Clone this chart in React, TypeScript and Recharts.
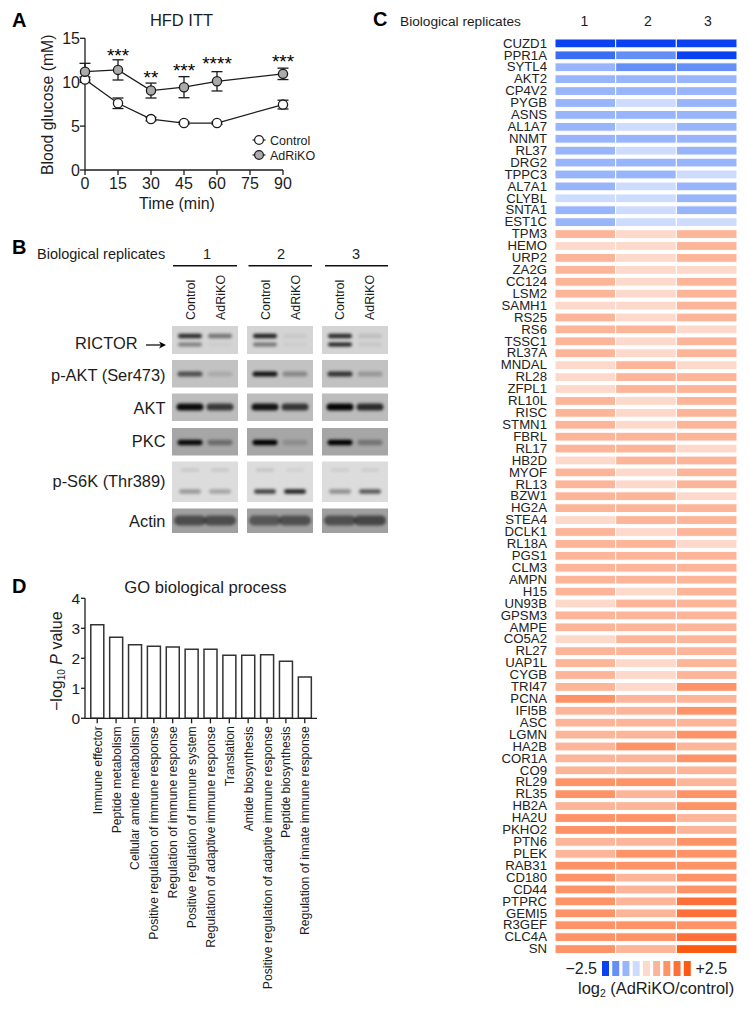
import React from 'react'
import {
  Bar,
  BarChart,
  Cell,
  ErrorBar,
  LabelList,
  Line,
  LineChart,
  ReferenceArea,
  Scatter,
  ScatterChart,
  XAxis,
  YAxis,
} from 'recharts'

// panel A
const times = [0, 15, 30, 45, 60, 90]
const timeTicks = [0, 15, 30, 45, 60, 75, 90]
const controlMean = [10.3, 7.6, 5.8, 5.35, 5.35, 7.45]
const controlErr = [0.3, 0.6, 0.2, 0.15, 0.15, 0.5]
const adrikoMean = [11.2, 11.4, 9.05, 9.43, 10.1, 10.95]
const adrikoErr = [0.95, 1.15, 0.85, 1.2, 1.1, 0.65]
const stars = ['', '***', '**', '***', '****', '***']
const starHeight = [null, 12.35, 9.8, 10.55, 11.4, 11.6]

// panel B
const blotLanes = [0, 1, 2.5, 3.5, 5, 6]
const blotNames = ['RICTOR', 'p-AKT (Ser473)', 'AKT', 'PKC', 'p-S6K (Thr389)', 'Actin']
const rictorUpper = [0.8, 0.45, 0.85, 0.05, 0.8, 0.1]
const rictorLower = [0.4, 0.03, 0.45, 0.03, 0.85, 0.06]
const pAkt = [0.6, 0.12, 0.9, 0.3, 0.75, 0.22]
const akt = [0.95, 0.7, 0.9, 0.72, 0.98, 0.78]
const pkc = [0.95, 0.35, 1, 0.15, 1, 0.3]
const s6kUpper = [0.1, 0.1, 0.12, 0.06, 0.08, 0.08]
const s6kLower = [0.3, 0.25, 0.7, 0.85, 0.35, 0.6]
const actin = [0.52, 0.52, 0.46, 0.5, 0.5, 0.56]

// panel C
const proteins = [
  'CUZD1', 'PPR1A', 'SYTL4', 'AKT2', 'CP4V2', 'PYGB', 'ASNS', 'AL1A7', 'NNMT', 'RL37', 'DRG2',
  'TPPC3', 'AL7A1', 'CLYBL', 'SNTA1', 'EST1C', 'TPM3', 'HEMO', 'URP2', 'ZA2G', 'CC124', 'LSM2',
  'SAMH1', 'RS25', 'RS6', 'TSSC1', 'RL37A', 'MNDAL', 'RL28', 'ZFPL1', 'RL10L', 'RISC', 'STMN1',
  'FBRL', 'RL17', 'HB2D', 'MYOF', 'RL13', 'BZW1', 'HG2A', 'STEA4', 'DCLK1', 'RL18A', 'PGS1',
  'CLM3', 'AMPN', 'H15', 'UN93B', 'GPSM3', 'AMPE', 'CO5A2', 'RL27', 'UAP1L', 'CYGB', 'TRI47',
  'PCNA', 'IFI5B', 'ASC', 'LGMN', 'HA2B', 'COR1A', 'CO9', 'RL29', 'RL35', 'HB2A', 'HA2U',
  'PKHO2', 'PTN6', 'PLEK', 'RAB31', 'CD180', 'CD44', 'PTPRC', 'GEMI5', 'R3GEF', 'CLC4A', 'SN',
]
const replicate1 = [
  -4, -3.5, -2, -2, -2, -2, -2, -2, -2, -2, -2, -2, -2, -1, -2, -2,
  2, 1, 2, 2, 2, 2, 1, 2, 2, 2, 2, 1, 1, 1, 2, 2, 2, 2, 2, 1, 2, 2, 2, 2, 1, 2, 2, 2, 2, 2, 2, 1,
  2, 2, 1, 2, 2, 2, 2, 3, 2, 2, 2, 2, 2, 2, 3, 3, 2, 3, 3, 2, 2, 3, 3, 3, 3, 3, 3, 3, 3,
]
const replicate2 = [
  -4, -3, -3, -2, -2, -1, -2, -1, -2, -1, -2, -2, -1, -1, -1, -1,
  1, 1, 1, 1, 1, 1, 1, 1, 2, 1, 1, 2, 2, 2, 1, 1, 1, 2, 2, 2, 1, 1, 2, 2, 2, 1, 2, 2, 2, 2, 1, 2,
  2, 2, 2, 2, 1, 1, 1, 2, 2, 2, 2, 3, 2, 2, 3, 2, 2, 3, 3, 2, 3, 3, 2, 2, 2, 2, 3, 3, 2,
]
const replicate3 = [
  -4, -4, -3, -2, -2, -2, -2, -2, -2, -2, -2, -1, -2, -2, -2, -1,
  2, 2, 2, 1, 2, 2, 2, 2, 1, 2, 2, 1, 2, 2, 2, 2, 2, 2, 1, 2, 2, 2, 1, 2, 2, 2, 1, 2, 2, 2, 2, 2,
  2, 2, 2, 2, 2, 2, 3, 2, 3, 2, 3, 2, 3, 2, 2, 3, 3, 2, 2, 3, 3, 3, 3, 3, 4, 4, 3, 4, 5,
]
const legendLevels = [-4, -3, -2, -1, 1, 2, 3, 4, 5]

// panel D
const goTerms = [
  'Immune effector',
  'Peptide metabolism',
  'Cellular amide metabolism',
  'Positive regulation of immune response',
  'Regulation of immune response',
  'Positive regulation of immune system',
  'Regulation of adaptive immune response',
  'Translation',
  'Amide biosynthesis',
  'Positive regulation of adaptive immune response',
  'Peptide biosynthesis',
  'Regulation of innate immune response',
]
const goValues = [3.12, 2.7, 2.45, 2.4, 2.38, 2.3, 2.3, 2.1, 2.1, 2.12, 1.9, 1.38]

const FONT = '"Liberation Sans", Arial, sans-serif'
const INK = '#1c1c1c'

const levelColors: Record<number, string> = {
  [-4]: '#0a42f2',
  [-3.5]: '#3a6ef2',
  [-3]: '#648ff6',
  [-2]: '#98b5fb',
  [-1]: '#cddcfd',
  1: '#fdd9cb',
  2: '#fdb599',
  3: '#fd9367',
  4: '#fd7039',
  5: '#fb5a10',
}

const glucoseData = times.map((time, i) => ({
  time,
  control: controlMean[i],
  controlErr: controlErr[i],
  adriko: adrikoMean[i],
  adrikoErr: adrikoErr[i],
  starY: starHeight[i],
  stars: stars[i],
}))

const heatData = proteins.map((name, i) => ({
  name,
  a: 1,
  b: 1,
  c: 1,
  levels: [replicate1[i], replicate2[i], replicate3[i]],
}))

const scaleData = legendLevels.map((level) => ({ level, v: 1 }))
const goData = goTerms.map((term, i) => ({ term, value: goValues[i] }))

// gel tracks: where each row runs on the membrane and how big its bands look
const gelTracks = [
  { at: 336, w: 24, h: 4.5, values: rictorUpper },
  { at: 344.5, w: 24, h: 4, values: rictorLower },
  { at: 374, w: 25, h: 5, values: pAkt },
  { at: 407, w: 27, h: 7, values: akt },
  { at: 442.5, w: 25, h: 5.5, values: pkc },
  { at: 470, w: 18, h: 3, values: s6kUpper },
  { at: 491.5, w: 22, h: 4.5, values: s6kLower },
  { at: 520.5, w: 32, h: 10, values: actin },
]
const gelBands = gelTracks.flatMap((t) =>
  t.values.map((v, i) => ({ lane: blotLanes[i], at: t.at, w: t.w, h: t.h, v })),
)
const gelRows = [
  { y1: 326, y2: 354, fill: '#d4d4d4' },
  { y1: 360, y2: 387.5, fill: '#c2c2c2' },
  { y1: 393.5, y2: 421, fill: '#bcbcbc' },
  { y1: 428, y2: 455.5, fill: '#a6a6a6' },
  { y1: 461.5, y2: 502, fill: '#dcdcdc' },
  { y1: 508.5, y2: 533, fill: '#a0a0a0' },
]
const gelColumns = [
  [-0.6, 1.6],
  [1.9, 4.1],
  [4.4, 6.6],
]

function GelBand(props: any) {
  const { cx, cy, payload } = props
  return (
    <rect
      x={cx - payload.w / 2}
      y={cy - payload.h / 2}
      width={payload.w}
      height={payload.h}
      rx={payload.h / 2}
      fill="#000"
      opacity={payload.v}
      style={{ filter: 'blur(1.5px)' }}
    />
  )
}

function GoTick(props: any) {
  const { x, y, payload } = props
  return (
    <text
      transform={`translate(${x + 4.5},${y + 1}) rotate(-90)`}
      textAnchor="end"
      fontSize={12.2}
      fontFamily={FONT}
      fill={INK}
    >
      {payload.value}
    </text>
  )
}

function GlucosePanel() {
  const tick = { fontSize: 16, fontFamily: FONT, fill: INK }
  const axis = { stroke: INK, strokeWidth: 1.3 }
  return (
    <div style={{ position: 'absolute', left: 0, top: 0 }}>
      <LineChart
        width={300}
        height={210}
        data={glucoseData}
        margin={{ top: 38.3, right: 17, bottom: 10, left: 45 }}
      >
        <XAxis
          dataKey="time"
          type="number"
          domain={[0, 90]}
          ticks={timeTicks}
          interval={0}
          height={30}
          tick={tick}
          tickSize={5}
          tickMargin={3}
          axisLine={axis}
          tickLine={axis}
        />
        <YAxis
          width={40}
          domain={[0, 15]}
          ticks={[0, 5, 10, 15]}
          interval={0}
          tick={tick}
          tickSize={5}
          tickMargin={0}
          axisLine={axis}
          tickLine={axis}
        />
        <Line
          dataKey="starY"
          stroke="none"
          dot={false}
          legendType="none"
          connectNulls
          isAnimationActive={false}
        >
          <LabelList dataKey="stars" position="top" fontSize={19} fontFamily={FONT} fill="#000" offset={0} />
        </Line>
        <Line
          dataKey="control"
          stroke={INK}
          strokeWidth={1.3}
          dot={{ r: 4.6, fill: '#fff', stroke: INK, strokeWidth: 1.3 }}
          isAnimationActive={false}
        >
          <ErrorBar dataKey="controlErr" direction="y" width={5.5} stroke={INK} strokeWidth={1.3} />
        </Line>
        <Line
          dataKey="adriko"
          stroke={INK}
          strokeWidth={1.3}
          dot={{ r: 4.6, fill: '#ababab', stroke: INK, strokeWidth: 1.3 }}
          isAnimationActive={false}
        >
          <ErrorBar dataKey="adrikoErr" direction="y" width={5.5} stroke={INK} strokeWidth={1.3} />
        </Line>
      </LineChart>
    </div>
  )
}

function BlotPanel() {
  return (
    <div style={{ position: 'absolute', left: 172, top: 326 }}>
      <ScatterChart width={216} height={207} margin={{ top: 0, right: 0, bottom: 0, left: 0 }}>
        <XAxis dataKey="lane" type="number" domain={[-0.6, 6.6]} hide />
        <YAxis dataKey="at" type="number" domain={[326, 533]} reversed hide />
        {gelRows.flatMap((row, r) =>
          gelColumns.map(([x1, x2], c) => (
            <ReferenceArea key={`${r}-${c}`} x1={x1} x2={x2} y1={row.y1} y2={row.y2} fill={row.fill} fillOpacity={1} stroke="none" />
          )),
        )}
        <Scatter data={gelBands} shape={<GelBand />} isAnimationActive={false} />
      </ScatterChart>
    </div>
  )
}

function HeatmapPanel() {
  return (
    <div style={{ position: 'absolute', left: 480, top: 37.3 }}>
      <BarChart
        width={258}
        height={917.6}
        layout="vertical"
        data={heatData}
        barSize={8.8}
        margin={{ top: 0, right: 1, bottom: 0, left: 0 }}
      >
        <XAxis type="number" domain={[0, 3]} hide />
        <YAxis
          type="category"
          dataKey="name"
          width={75}
          interval={0}
          axisLine={false}
          tickLine={false}
          tickMargin={2}
          tick={{ fontSize: 13.2, fontFamily: FONT, fill: '#222' }}
        />
        {['a', 'b', 'c'].map((key, col) => (
          <Bar key={key} dataKey={key} stackId="rep" stroke="#fff" strokeWidth={1} isAnimationActive={false}>
            {heatData.map((row) => (
              <Cell key={row.name} fill={levelColors[row.levels[col]]} />
            ))}
          </Bar>
        ))}
      </BarChart>
    </div>
  )
}

function ScalePanel() {
  return (
    <div style={{ position: 'absolute', left: 600, top: 960.7 }}>
      <BarChart width={92} height={15} data={scaleData} barSize={7} margin={{ top: 0, right: 0, bottom: 0, left: 0 }}>
        <XAxis dataKey="level" hide />
        <YAxis domain={[0, 1]} hide />
        <Bar dataKey="v" isAnimationActive={false}>
          {scaleData.map((d) => (
            <Cell key={d.level} fill={levelColors[d.level]} />
          ))}
        </Bar>
      </BarChart>
    </div>
  )
}

function GoPanel() {
  const axis = { stroke: INK, strokeWidth: 1.3 }
  return (
    <div style={{ position: 'absolute', left: 0, top: 590 }}>
      <BarChart
        width={330}
        height={420}
        data={goData}
        barSize={13}
        margin={{ top: 8.3, right: 13, bottom: 0, left: 45 }}
      >
        <XAxis
          dataKey="term"
          interval={0}
          padding={{ left: 2.8, right: 2.8 }}
          height={291.7}
          tick={<GoTick />}
          tickSize={5}
          axisLine={axis}
          tickLine={axis}
        />
        <YAxis
          width={40}
          domain={[0, 4]}
          ticks={[0, 1, 2, 3, 4]}
          interval={0}
          tickSize={4}
          tickMargin={1}
          axisLine={axis}
          tickLine={axis}
          tick={{ fontSize: 15.5, fontFamily: FONT, fill: INK }}
        />
        <Bar dataKey="value" fill="#fff" stroke="#333" strokeWidth={1.5} isAnimationActive={false} />
      </BarChart>
    </div>
  )
}

function Text(props: any) {
  const { children, size = 14, ...rest } = props
  return (
    <text fontSize={size} fontFamily={FONT} fill={INK} {...rest}>
      {children}
    </text>
  )
}

function Annotations() {
  const laneLabelX = [194.5, 224.5, 269.5, 299.5, 344, 374]
  const rowLabelY = [349, 381, 414, 447, 487, 527]
  return (
    <svg width={750} height={1014} style={{ position: 'absolute', left: 0, top: 0, pointerEvents: 'none' }}>
      <Text x={12} y={27} size={20} fontWeight="bold" fill="#000">A</Text>
      <Text x={12} y={254} size={20} fontWeight="bold" fill="#000">B</Text>
      <Text x={12} y={593} size={20} fontWeight="bold" fill="#000">D</Text>
      <Text x={373} y={26} size={20} fontWeight="bold" fill="#000">C</Text>

      <Text x={181.5} y={26} size={16.5} textAnchor="middle">HFD ITT</Text>
      <Text x={205.5} y={593} size={16.6} textAnchor="middle">GO biological process</Text>

      <Text transform="translate(53,175) rotate(-90)" size={15.8}>Blood glucose (mM)</Text>
      <Text x={177} y={209} size={16} textAnchor="middle">Time (min)</Text>

      <Text x={37} y={259} size={14.5}>Biological replicates</Text>
      {[
        [207, 173, 237],
        [281, 248.5, 312],
        [356, 325, 388],
      ].map(([mid, x1, x2], i) => (
        <g key={i}>
          <Text x={mid} y={259} size={14.5} textAnchor="middle">{i + 1}</Text>
          <line x1={x1} x2={x2} y1={265.7} y2={265.7} stroke="#111" strokeWidth={1.5} />
        </g>
      ))}
      {laneLabelX.map((x, i) => (
        <Text key={i} size={12.5} textAnchor="start" transform={`translate(${x},320) rotate(-90)`}>
          {i % 2 === 0 ? 'Control' : 'AdRiKO'}
        </Text>
      ))}
      {blotNames.map((name, i) =>
        i === 0 ? (
          <Text key={name} x={137.5} y={rowLabelY[i]} size={16.4} textAnchor="end">{name}</Text>
        ) : (
          <Text key={name} x={165.5} y={rowLabelY[i]} size={16.4} textAnchor="end">{name}</Text>
        ),
      )}
      <line x1={146} x2={163} y1={345} y2={345} stroke="#000" strokeWidth={1.2} />
      <path d="M159,341.5 L166,345 L159,348.5 L161,345 Z" fill="#000" />

      {[
        ['Control', '#fff'],
        ['AdRiKO', '#ababab'],
      ].map(([label, fill], i) => (
        <g key={label} transform={`translate(252.5,${140 + i * 15})`}>
          <line x1={0} x2={13} y1={0} y2={0} stroke={INK} strokeWidth={1.2} />
          <circle cx={6.5} cy={0} r={4.4} fill={fill} stroke={INK} strokeWidth={1.2} />
          <Text x={17.5} y={4.5} size={12.5}>{label}</Text>
        </g>
      ))}

      <Text x={400} y={26} size={13.7}>Biological replicates</Text>
      <Text x={584.5} y={26} size={14} textAnchor="middle">1</Text>
      <Text x={648} y={26} size={14} textAnchor="middle">2</Text>
      <Text x={708} y={26} size={14} textAnchor="middle">3</Text>

      <Text x={597} y={974} size={16} textAnchor="end">−2.5</Text>
      <Text x={695.5} y={974} size={16}>+2.5</Text>
      <Text x={578} y={994} size={16.4}>
        log<tspan fontSize={10.5} dy={3}>2</tspan>
        <tspan dy={-3}> (AdRiKO/control)</tspan>
      </Text>

      <Text size={16} transform="translate(62,711) rotate(-90)">
        −log<tspan fontSize={10} dy={3}>10</tspan>
        <tspan dy={-3}> </tspan>
        <tspan fontStyle="italic">P</tspan> value
      </Text>
    </svg>
  )
}

export default function App() {
  return (
    <div style={{ position: 'absolute', left: 0, top: 0, width: 750, height: 1014, background: '#fff', overflow: 'hidden' }}>
      <GlucosePanel />
      <BlotPanel />
      <HeatmapPanel />
      <ScalePanel />
      <GoPanel />
      <Annotations />
    </div>
  )
}
